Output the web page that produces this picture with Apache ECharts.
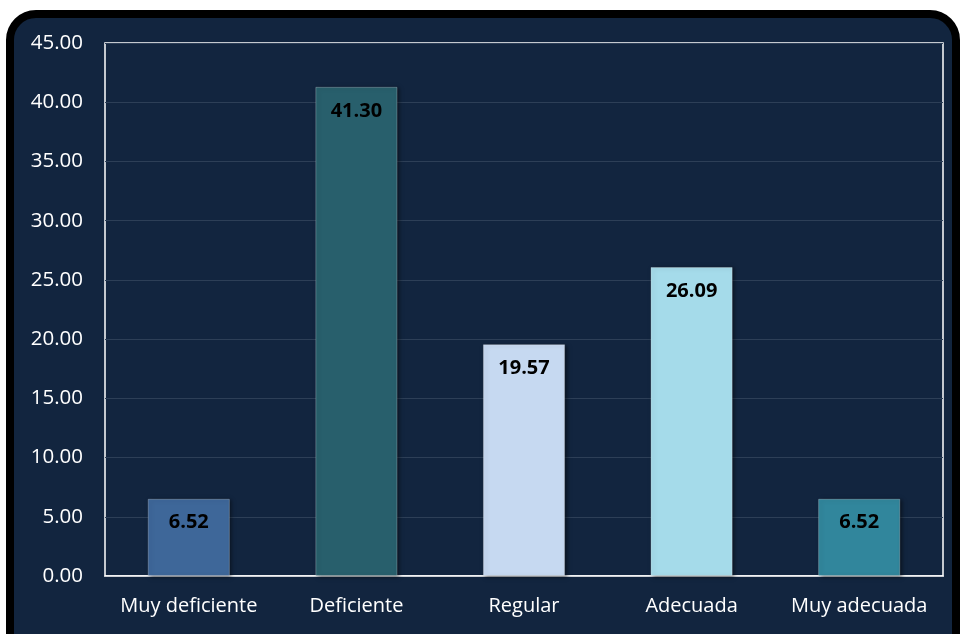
<!DOCTYPE html>
<html><head><meta charset="utf-8">
<script src="https://cdn.jsdelivr.net/npm/echarts@6/dist/echarts.min.js"></script>
<style>
html,body{margin:0;padding:0;background:#fff;width:960px;height:634px;overflow:hidden;}
#frame{position:absolute;left:6px;top:10px;width:938px;height:640px;border:8px solid #000;border-radius:30px;background:#12253f;}
#c{position:absolute;left:0;top:0;width:960px;height:634px;}
</style></head>
<body><div id="frame"></div><div id="c"></div>
<script>
const categories = ['Muy deficiente','Deficiente','Regular','Adecuada','Muy adecuada'];
const values = [6.52, 41.30, 19.57, 26.09, 6.52];
const barColors = ['#3e6799','#285f6c','#c6d9f1','#a5dbea','#31869c'];
const yTicks = {min:0, max:45, interval:5};

const chart = echarts.init(document.getElementById('c'), null, {renderer:'canvas'});
chart.setOption({
  backgroundColor:'transparent',
  grid:{left:105,right:17,top:43,bottom:58,show:true,borderColor:'#ffffff',borderWidth:1.5},
  xAxis:{type:'category',data:categories,
    axisLine:{show:true,lineStyle:{color:'#ffffff',width:1.5}},
    axisTick:{show:false},
    axisLabel:{color:'#ffffff',fontSize:20,fontFamily:'Open Sans',margin:20,interval:0,hideOverlap:false}},
  yAxis:{type:'value',min:yTicks.min,max:yTicks.max,interval:yTicks.interval,
    axisLine:{show:false},axisTick:{show:false},
    splitLine:{lineStyle:{color:'#2d3f57',width:1}},
    axisLabel:{color:'#ffffff',fontSize:20.5,fontFamily:'Open Sans',margin:22,formatter:v=>v.toFixed(2)}},
  series:[{type:'bar',barWidth:'49%',
    data:values.map((v,i)=>({value:v,itemStyle:{color:barColors[i]}})),
    itemStyle:{borderColor:'rgba(255,255,255,0.25)',borderWidth:1,shadowColor:'rgba(0,0,0,0.5)',shadowBlur:4,shadowOffsetX:2,shadowOffsetY:1},
    label:{show:true,position:'insideTop',distance:14,color:'#000',fontWeight:'bold',fontSize:20,fontFamily:'Open Sans',formatter:p=>p.value.toFixed(2)}
  }]
});
</script></body></html>
